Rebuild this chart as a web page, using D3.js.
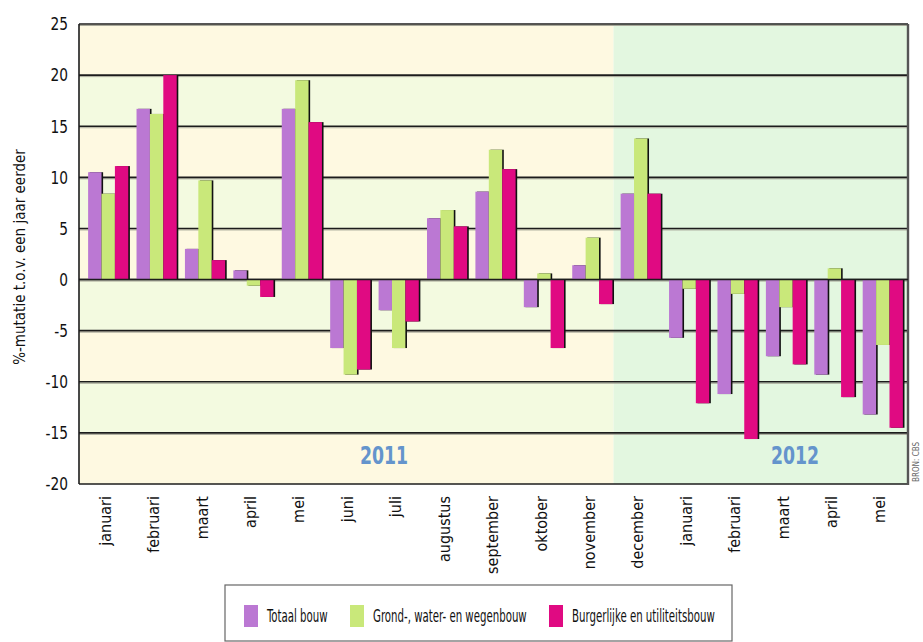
<!DOCTYPE html>
<html>
<head>
<meta charset="utf-8">
<script src="https://cdn.jsdelivr.net/npm/d3@7"></script>
<style>
  body { margin: 0; background: #fff; }
  svg text { font-family: "DejaVu Sans Condensed", "DejaVu Sans", sans-serif; font-stretch: condensed; }
</style>
</head>
<body>
<script>
const months = ["januari", "februari", "maart", "april", "mei", "juni", "juli", "augustus",
  "september", "oktober", "november", "december", "januari", "februari", "maart", "april", "mei"];
const years = [2011, 2011, 2011, 2011, 2011, 2011, 2011, 2011, 2011, 2011, 2011,
  2012, 2012, 2012, 2012, 2012, 2012];
const seriesNames = ["Totaal bouw", "Grond-, water- en wegenbouw", "Burgerlijke en utiliteitsbouw"];
const totaal = [10.5, 16.7, 3.0, 0.9, 16.7, -6.7, -3.0, 6.0, 8.6, -2.7, 1.4, 8.4, -5.7, -11.2, -7.5, -9.3, -13.2];
const grond = [8.4, 16.2, 9.7, -0.6, 19.5, -9.3, -6.7, 6.8, 12.7, 0.6, 4.1, 13.8, -0.9, -1.4, -2.7, 1.1, -6.4];
const burger = [11.1, 20.0, 1.9, -1.7, 15.4, -8.8, -4.1, 5.2, 10.8, -6.7, -2.4, 8.4, -12.1, -15.6, -8.3, -11.5, -14.5];
const yTicks = [25, 20, 15, 10, 5, 0, -5, -10, -15, -20];
const yearLabels = ["2011", "2012"];

const colors = ["#bb78d3", "#c9e87a", "#e00a82"];
const width = 923, height = 642;
const plot = { left: 79, right: 908, top: 24, bottom: 484 };

const svg = d3.select("body").append("svg")
  .attr("width", width)
  .attr("height", height);

const x = d3.scaleBand()
  .domain(d3.range(months.length))
  .range([84, 907])
  .paddingInner(0.17)
  .paddingOuter(0.085);

const sub = d3.scaleBand()
  .domain(d3.range(3))
  .range([0, x.bandwidth()]);

const y = d3.scaleLinear()
  .domain([-20, 25])
  .range([plot.bottom, plot.top]);

// backgrounds: alternating bands for 2011, plain green for 2012
const splitIdx = years.indexOf(2012);
const splitX = x(splitIdx) - x.step() * x.paddingInner() / 2 - 3;
const bands = d3.range(-20, 25, 5);
svg.append("g").selectAll("rect")
  .data(bands)
  .join("rect")
  .attr("x", plot.left)
  .attr("width", splitX - plot.left)
  .attr("y", d => y(d + 5))
  .attr("height", d => y(d) - y(d + 5))
  .attr("fill", d => ((d + 20) / 5) % 2 === 0 ? "#fef9e1" : "#f3fae0");
svg.append("rect")
  .attr("x", splitX)
  .attr("y", plot.top)
  .attr("width", plot.right - splitX)
  .attr("height", plot.bottom - plot.top)
  .attr("fill", "#e3f7e0");

// gridlines
const grid = svg.append("g");
grid.selectAll("line.sh")
  .data(yTicks.filter(d => d !== -20))
  .join("line")
  .attr("class", "sh")
  .attr("x1", plot.left).attr("x2", plot.right)
  .attr("y1", d => y(d) + 1.5).attr("y2", d => y(d) + 1.5)
  .attr("stroke", "#a8a89a").attr("stroke-width", 1);
grid.selectAll("line.gl")
  .data(yTicks)
  .join("line")
  .attr("class", "gl")
  .attr("x1", plot.left).attr("x2", plot.right)
  .attr("y1", d => y(d)).attr("y2", d => y(d))
  .attr("stroke", "#1c1c1c").attr("stroke-width", 1.6);

// frame
svg.append("line")
  .attr("x1", plot.left).attr("x2", plot.left)
  .attr("y1", plot.top).attr("y2", plot.bottom)
  .attr("stroke", "#1c1c1c").attr("stroke-width", 1.6);
svg.append("line")
  .attr("x1", plot.right).attr("x2", plot.right)
  .attr("y1", plot.top).attr("y2", plot.bottom + 1)
  .attr("stroke", "#555").attr("stroke-width", 2.4);

// bars with a dark shadow on their right side
const series = [totaal, grond, burger];
const barG = svg.append("g");
months.forEach((m, i) => {
  series.forEach((s, k) => {
    const v = s[i];
    const bx = x(i) + sub(k);
    const by = y(Math.max(0, v));
    const bh = Math.abs(y(v) - y(0));
    barG.append("rect")
      .attr("x", bx + 1.6)
      .attr("y", by)
      .attr("width", sub.bandwidth())
      .attr("height", bh)
      .attr("fill", "#111");
    barG.append("rect")
      .attr("x", bx)
      .attr("y", by)
      .attr("width", sub.bandwidth())
      .attr("height", bh)
      .attr("fill", colors[k]);
  });
});

// zero line on top of bars
svg.append("line")
  .attr("x1", plot.left).attr("x2", plot.right)
  .attr("y1", y(0)).attr("y2", y(0))
  .attr("stroke", "#1c1c1c").attr("stroke-width", 1.6);

// y axis labels (narrowed to mimic the condensed face)
svg.append("g").selectAll("text")
  .data(yTicks)
  .join("text")
  .attr("transform", d => `translate(68, ${y(d)}) scale(0.85, 1)`)
  .attr("dy", "0.35em")
  .attr("text-anchor", "end")
  .attr("font-size", 18)
  .attr("fill", "#111")
  .text(d => d);

svg.append("text")
  .attr("transform", `translate(25, ${(plot.top + plot.bottom) / 2 + 3}) rotate(-90)`)
  .attr("text-anchor", "middle")
  .attr("font-size", 15)
  .attr("fill", "#111")
  .text("%-mutatie t.o.v. een jaar eerder");

// x labels
svg.append("g").selectAll("text")
  .data(months)
  .join("text")
  .attr("transform", (d, i) => `translate(${x(i) + x.bandwidth() / 2 - 3}, 496) rotate(-90)`)
  .attr("dy", "0.35em")
  .attr("text-anchor", "end")
  .attr("font-size", 16)
  .attr("fill", "#111")
  .text(d => d);

// year labels
const yearX = [384, 795];
svg.append("g").selectAll("text")
  .data(yearLabels)
  .join("text")
  .attr("transform", (d, i) => `translate(${yearX[i]}, 464) scale(0.8, 1)`)
  .attr("text-anchor", "middle")
  .attr("font-size", 24)
  .attr("font-weight", "bold")
  .attr("fill", "#6494cc")
  .text(d => d);

svg.append("text")
  .attr("transform", "translate(919, 482) rotate(-90)")
  .attr("font-size", 8)
  .attr("fill", "#666")
  .text("BRON: CBS");

// legend
const legend = svg.append("g");
legend.append("rect")
  .attr("x", 225).attr("y", 585)
  .attr("width", 507).attr("height", 56)
  .attr("fill", "#fff")
  .attr("stroke", "#666").attr("stroke-width", 1.2);
const legendX = [244, 350, 549];
seriesNames.forEach((n, k) => {
  legend.append("rect")
    .attr("x", legendX[k]).attr("y", 605)
    .attr("width", 14).attr("height", 22)
    .attr("fill", colors[k]);
  legend.append("text")
    .attr("transform", `translate(${legendX[k] + 23}, 616) scale(0.63, 1)`)
    .attr("dy", "0.35em")
    .attr("font-size", 18)
    .attr("fill", "#111")
    .text(n);
});
</script>
</body>
</html>
